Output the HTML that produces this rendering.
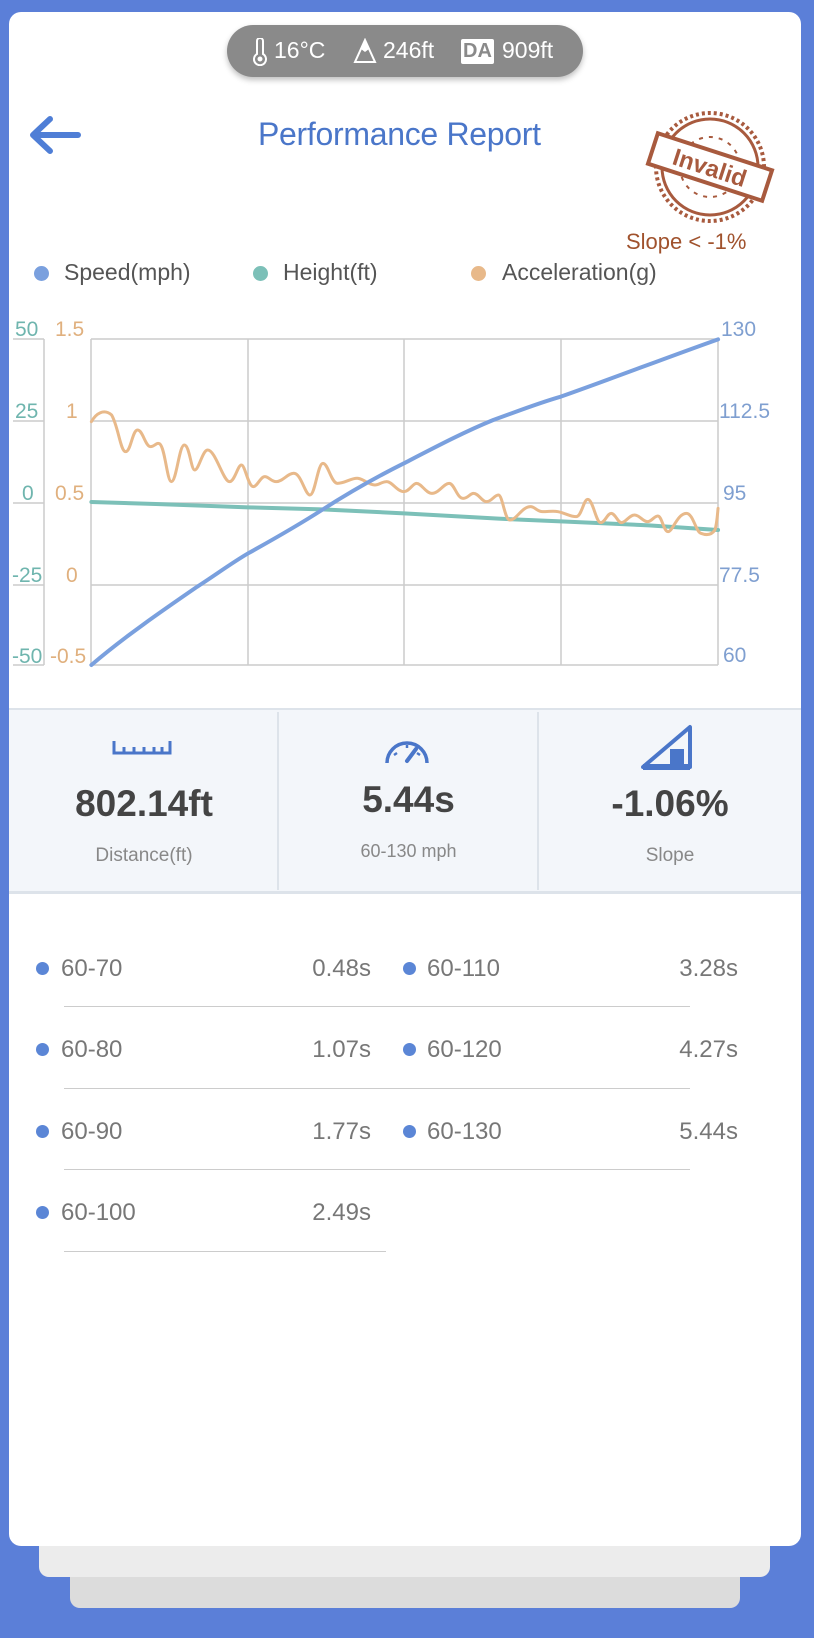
<!DOCTYPE html>
<html><head><meta charset="utf-8"><style>
*{margin:0;padding:0;box-sizing:border-box}
body{width:814px;height:1638px;background:#5b7fd8;position:relative;overflow:hidden;font-family:"Liberation Sans",sans-serif}
.l3{position:absolute;left:70px;width:670px;top:1500px;height:108px;background:#dcdcdc;border-radius:10px}
.l2{position:absolute;left:39px;width:731px;top:1480px;height:97px;background:#ececec;border-radius:10px}
.card{position:absolute;left:9px;top:12px;width:792px;height:1534px;background:#fff;border-radius:12px;overflow:hidden}
.abs{position:absolute;white-space:nowrap}
</style></head><body>
<div class="l3"></div><div class="l2"></div>
<div class="card"></div>
<!-- pill -->
<div class="abs" style="left:227px;top:25px;width:356px;height:52px;background:#8a8a8a;border-radius:26px;box-shadow:0 3px 6px rgba(0,0,0,.25)"></div>
<svg class="abs" style="left:250px;top:38px" width="20" height="28" viewBox="0 0 20 28"><path d="M7 3a3 3 0 0 1 6 0v13a6 6 0 1 1-6 0z" fill="none" stroke="#fff" stroke-width="2"/><circle cx="10" cy="21" r="2.5" fill="#fff"/></svg>
<div class="abs" style="left:274px;top:37px;color:#fff;font-size:23px">16°C</div>
<svg class="abs" style="left:353px;top:38px" width="24" height="26" viewBox="0 0 24 26"><path d="M12 2L2 24h20z" fill="none" stroke="#fff" stroke-width="2"/><path d="M12 2L8 11l4 3 4-3z" fill="#fff"/></svg>
<div class="abs" style="left:383px;top:37px;color:#fff;font-size:23px">246ft</div>
<div class="abs" style="left:461px;top:39px;background:#fff;color:#8a8a8a;font-size:20px;font-weight:bold;padding:1px 2px;border-radius:2px">DA</div>
<div class="abs" style="left:502px;top:37px;color:#fff;font-size:23px">909ft</div>
<!-- header -->
<svg class="abs" style="left:28px;top:114px" width="54" height="42" viewBox="0 0 54 42"><path d="M50 21H6M22 5L5 21l17 16" fill="none" stroke="#4f7ed6" stroke-width="6" stroke-linecap="round" stroke-linejoin="round"/></svg>
<div class="abs" style="left:258px;top:116px;color:#4a76c9;font-size:32px;letter-spacing:-0.3px">Performance Report</div>
<!-- stamp -->
<svg class="abs" style="left:645px;top:105px" width="130" height="125" viewBox="0 0 130 125">
<g fill="none" stroke="#a85a3e">
<circle cx="65" cy="62" r="54" stroke-width="4" stroke-dasharray="3 3"/>
<circle cx="65" cy="62" r="48" stroke-width="3"/>
<circle cx="65" cy="62" r="30" stroke-width="2" stroke-dasharray="4 6"/>
</g>
<g transform="rotate(18 65 62)"><rect x="5" y="46" width="120" height="32" fill="#fff" stroke="#a85a3e" stroke-width="4"/>
<text x="65" y="71" text-anchor="middle" font-size="24" font-weight="bold" fill="#a85a3e" font-family="Liberation Sans">Invalid</text></g>
</svg>
<div class="abs" style="left:626px;top:229px;color:#a0522d;font-size:22px">Slope &lt; -1%</div>
<!-- legend -->
<div class="abs" style="left:34px;top:266px;width:15px;height:15px;border-radius:50%;background:#7aa0de"></div>
<div class="abs" style="left:64px;top:259px;color:#555;font-size:23px">Speed(mph)</div>
<div class="abs" style="left:253px;top:266px;width:15px;height:15px;border-radius:50%;background:#7cc0b8"></div>
<div class="abs" style="left:283px;top:259px;color:#555;font-size:23px">Height(ft)</div>
<div class="abs" style="left:471px;top:266px;width:15px;height:15px;border-radius:50%;background:#e8b98a"></div>
<div class="abs" style="left:502px;top:259px;color:#555;font-size:23px">Acceleration(g)</div>
<!-- chart -->
<svg class="abs" style="left:0;top:0" width="814" height="720">
<g stroke="#cccccc" stroke-width="1.5" fill="none">
<line x1="91" y1="339" x2="718" y2="339"/><line x1="91" y1="421" x2="718" y2="421"/><line x1="91" y1="503" x2="718" y2="503"/><line x1="91" y1="585" x2="718" y2="585"/><line x1="91" y1="665" x2="718" y2="665"/>
<line x1="91" y1="339" x2="91" y2="665"/><line x1="248" y1="339" x2="248" y2="665"/><line x1="404" y1="339" x2="404" y2="665"/><line x1="561" y1="339" x2="561" y2="665"/><line x1="718" y1="339" x2="718" y2="665"/>
<line x1="44" y1="339" x2="44" y2="665"/>
<line x1="13" y1="339" x2="44" y2="339"/><line x1="13" y1="421" x2="44" y2="421"/><line x1="13" y1="503" x2="44" y2="503"/><line x1="13" y1="585" x2="44" y2="585"/><line x1="13" y1="665" x2="44" y2="665"/>
</g>
<g font-family="Liberation Sans" font-size="21">
<g fill="#6fb5ae"><text x="15" y="336">50</text><text x="15" y="418">25</text><text x="22" y="500">0</text><text x="12" y="582">-25</text><text x="12" y="663">-50</text></g>
<g fill="#e0b07e"><text x="55" y="336">1.5</text><text x="66" y="418">1</text><text x="55" y="500">0.5</text><text x="66" y="582">0</text><text x="50" y="663">-0.5</text></g>
<g fill="#7f9fd0"><text x="721" y="336">130</text><text x="719" y="418">112.5</text><text x="723" y="500">95</text><text x="719" y="582">77.5</text><text x="723" y="662">60</text></g>
</g>
<g transform="translate(0,300) scale(0.5192,0.33333)" fill="none" stroke-linejoin="round" stroke-linecap="round">
<path vector-effect="non-scaling-stroke" stroke="#7cc0b8" stroke-width="4" d="M176 606 L300 612 L478 622 L620 628 L778 640 L960 656 L1080 664 L1250 676 L1383 690"/>
<path vector-effect="non-scaling-stroke" stroke="#e8b98a" stroke-width="3" d="M176 365 C185 340 200 325 215 345 C228 380 232 455 242 455 C252 455 255 390 265 390 C275 390 280 440 290 440 C298 440 302 425 308 432 C318 445 322 545 330 545 C340 545 345 435 355 435 C365 435 368 510 375 510 C383 510 390 450 400 450 C415 450 430 545 442 545 C452 545 458 495 465 495 C472 495 478 560 488 560 C495 560 502 530 510 530 C518 530 522 545 532 545 C545 545 555 518 567 520 C580 522 588 585 597 585 C607 585 612 490 622 490 C632 490 638 550 650 550 C665 550 678 532 690 535 C702 538 710 555 722 555 C730 555 735 545 745 545 C755 545 765 575 778 575 C788 575 795 550 802 550 C812 550 820 580 832 580 C845 580 855 550 865 550 C875 550 880 595 892 595 C902 595 905 580 912 580 C922 580 928 605 937 605 C947 605 952 585 960 585 C968 585 972 660 982 660 C995 660 1005 620 1022 620 C1030 620 1035 635 1045 635 C1058 635 1065 632 1075 635 C1090 640 1098 650 1110 650 C1120 650 1124 598 1132 598 C1142 598 1148 668 1157 668 C1165 668 1170 640 1177 640 C1185 640 1190 668 1197 668 C1205 668 1212 645 1222 645 C1232 645 1238 665 1247 665 C1255 665 1260 648 1267 648 C1275 648 1278 695 1287 695 C1295 695 1305 640 1322 640 C1335 640 1340 695 1350 700 C1360 706 1370 706 1377 690 C1381 670 1382 640 1383 625"/>
<path vector-effect="non-scaling-stroke" stroke="#7aa0de" stroke-width="4" d="M176 1095 C240 1010 310 935 380 860 C415 825 445 790 478 760 C530 715 575 675 620 630 C670 580 720 535 778 490 C840 440 895 395 950 360 C995 335 1035 310 1080 290 C1180 235 1280 175 1383 118"/>
</g>
</svg>
<!-- stats panel -->
<div class="abs" style="left:9px;top:708px;width:792px;height:186px;background:#f3f6fa;border-top:2px solid #dde3ea;border-bottom:3px solid #dde3ea"></div>
<div class="abs" style="left:277px;top:712px;width:2px;height:178px;background:#dde3ea"></div>
<div class="abs" style="left:537px;top:712px;width:2px;height:178px;background:#dde3ea"></div>
<svg class="abs" style="left:112px;top:738px" width="60" height="18" viewBox="0 0 60 18"><path d="M2 3v12h56V3M12 9v6M22 9v6M32 9v6M42 9v6M50 9v6" fill="none" stroke="#4a76c9" stroke-width="3"/></svg>
<svg class="abs" style="left:382px;top:733px" width="50" height="34" viewBox="0 0 50 34"><path d="M5 30A20 20 0 1 1 45 30" fill="none" stroke="#4a76c9" stroke-width="3.5"/><path d="M25 28L34 16" stroke="#4a76c9" stroke-width="4" stroke-linecap="round"/><path d="M12 22l3 -2M25 12v3M38 22l-3-2" stroke="#4a76c9" stroke-width="2.5"/></svg>
<svg class="abs" style="left:640px;top:723px" width="56" height="48" viewBox="0 0 56 48"><path d="M3 44L50 4V44Z" fill="none" stroke="#4a76c9" stroke-width="4" stroke-linejoin="round"/><rect x="30" y="26" width="14" height="18" fill="#4a76c9"/><path d="M3 44h47" stroke="#4a76c9" stroke-width="6"/></svg>
<div class="abs" style="left:9px;width:270px;top:783px;text-align:center;color:#444;font-size:37px;font-weight:bold">802.14ft</div>
<div class="abs" style="left:279px;width:259px;top:779px;text-align:center;color:#444;font-size:37px;font-weight:bold">5.44s</div>
<div class="abs" style="left:539px;width:262px;top:783px;text-align:center;color:#444;font-size:37px;font-weight:bold">-1.06%</div>
<div class="abs" style="left:9px;width:270px;top:845px;text-align:center;color:#888;font-size:19px">Distance(ft)</div>
<div class="abs" style="left:279px;width:259px;top:841px;text-align:center;color:#888;font-size:18px">60-130 mph</div>
<div class="abs" style="left:539px;width:262px;top:845px;text-align:center;color:#888;font-size:19px">Slope</div>
<!-- list -->
<div style="position:absolute;left:0;top:0;color:#777;font-size:24px">
<div class="abs" style="left:36px;top:962px;width:13px;height:13px;border-radius:50%;background:#5b86d6"></div>
<div class="abs" style="left:61px;top:955px">60-70</div><div class="abs" style="left:240px;width:131px;text-align:right;top:955px">0.48s</div>
<div class="abs" style="left:403px;top:962px;width:13px;height:13px;border-radius:50%;background:#5b86d6"></div>
<div class="abs" style="left:427px;top:955px">60-110</div><div class="abs" style="left:600px;width:138px;text-align:right;top:955px">3.28s</div>
<div class="abs" style="left:64px;top:1006px;width:626px;height:1px;background:#ccc"></div>

<div class="abs" style="left:36px;top:1043px;width:13px;height:13px;border-radius:50%;background:#5b86d6"></div>
<div class="abs" style="left:61px;top:1036px">60-80</div><div class="abs" style="left:240px;width:131px;text-align:right;top:1036px">1.07s</div>
<div class="abs" style="left:403px;top:1043px;width:13px;height:13px;border-radius:50%;background:#5b86d6"></div>
<div class="abs" style="left:427px;top:1036px">60-120</div><div class="abs" style="left:600px;width:138px;text-align:right;top:1036px">4.27s</div>
<div class="abs" style="left:64px;top:1088px;width:626px;height:1px;background:#ccc"></div>

<div class="abs" style="left:36px;top:1125px;width:13px;height:13px;border-radius:50%;background:#5b86d6"></div>
<div class="abs" style="left:61px;top:1118px">60-90</div><div class="abs" style="left:240px;width:131px;text-align:right;top:1118px">1.77s</div>
<div class="abs" style="left:403px;top:1125px;width:13px;height:13px;border-radius:50%;background:#5b86d6"></div>
<div class="abs" style="left:427px;top:1118px">60-130</div><div class="abs" style="left:600px;width:138px;text-align:right;top:1118px">5.44s</div>
<div class="abs" style="left:64px;top:1169px;width:626px;height:1px;background:#ccc"></div>

<div class="abs" style="left:36px;top:1206px;width:13px;height:13px;border-radius:50%;background:#5b86d6"></div>
<div class="abs" style="left:61px;top:1199px">60-100</div><div class="abs" style="left:240px;width:131px;text-align:right;top:1199px">2.49s</div>
<div class="abs" style="left:64px;top:1251px;width:322px;height:1px;background:#ccc"></div>
</div>
</body></html>
